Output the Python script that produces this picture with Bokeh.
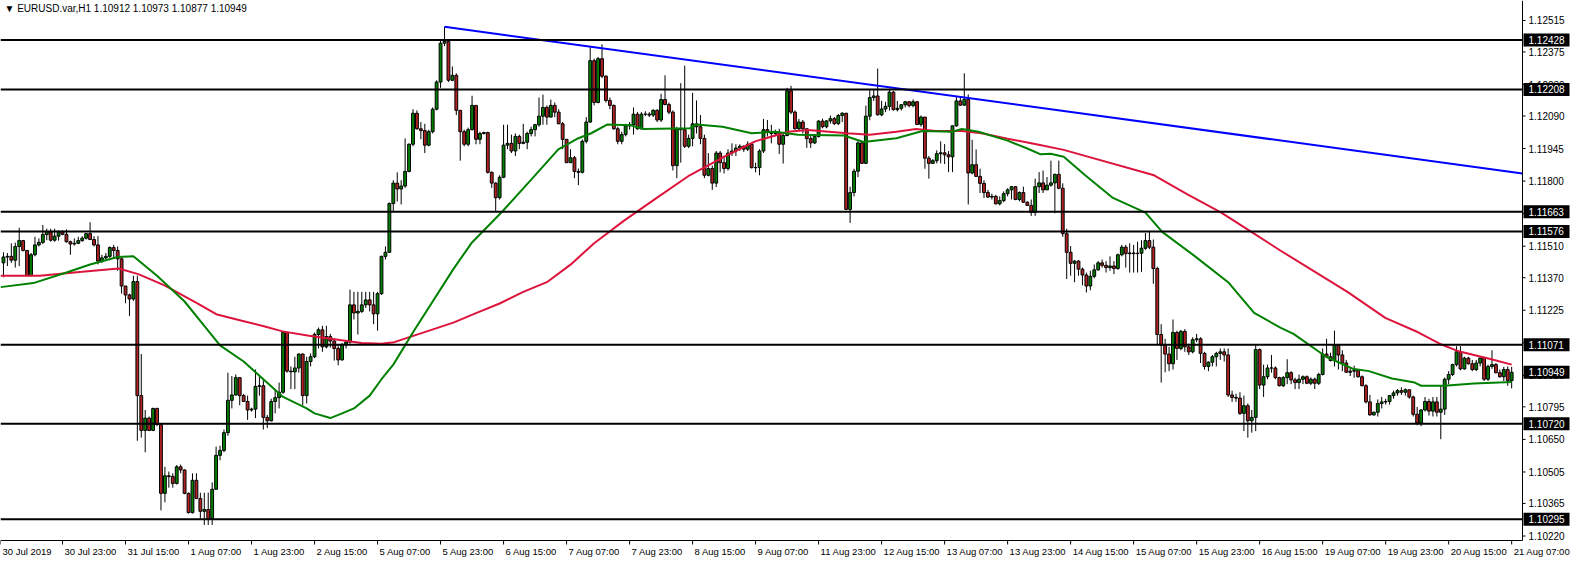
from bokeh.plotting import figure
from bokeh.models import Range1d, Label, ColumnDataSource
from bokeh.core.properties import value
from bokeh.embed import file_html
from bokeh.resources import INLINE

FONT = "Liberation Sans"

# ---------------- data (EURUSD H1) ----------------
first_open = 1.11436
closes = [
1.11462,1.11465,1.11448,1.11509,1.11535,1.11491,1.11379,1.11472,1.11516,1.11527,
1.11562,1.11574,1.11537,1.11555,1.11574,1.11563,1.11530,1.11520,1.11523,1.11535,
1.11546,1.11566,1.11540,1.11516,1.11444,1.11458,1.11465,1.11504,1.11491,1.11454,
1.11333,1.11293,1.11275,1.11353,1.10845,1.10690,1.10745,1.10690,1.10788,1.10716,
1.10410,1.10488,1.10485,1.10454,1.10528,1.10514,1.10410,1.10324,1.10468,1.10387,
1.10330,1.10338,1.10298,1.10428,1.10579,1.10601,1.10680,1.10824,1.10848,1.10925,
1.10845,1.10819,1.10781,1.10785,1.10886,1.10889,1.10748,1.10733,1.10819,1.10836,
1.10860,1.11126,1.10954,1.10951,1.10968,1.11030,1.10845,1.10997,1.11018,1.11117,
1.11138,1.11062,1.11108,1.11088,1.11055,1.11004,1.11073,1.11083,1.11249,1.11213,
1.11220,1.11249,1.11271,1.11249,1.11209,1.11299,1.11465,1.11483,1.11700,1.11791,
1.11765,1.11778,1.11843,1.11964,1.12102,1.12033,1.12025,1.11960,1.12020,1.12120,
1.12241,1.12414,1.12422,1.12249,1.12271,1.12115,1.12020,1.11964,1.12029,1.12137,
1.11986,1.12012,1.12016,1.11839,1.11791,1.11726,1.11817,1.11960,1.11968,1.11934,
1.11999,1.11968,1.11973,1.12012,1.12029,1.12051,1.12089,1.12128,1.12085,1.12137,
1.12107,1.12055,1.11986,1.11882,1.11904,1.11843,1.11839,1.11977,1.12063,1.12336,
1.12150,1.12345,1.12267,1.12159,1.12137,1.12033,1.11977,1.12007,1.12046,1.12051,
1.12098,1.12033,1.12098,1.12098,1.12094,1.12115,1.12072,1.12163,1.12141,1.12107,
1.11869,1.12033,1.12029,1.11955,1.11990,1.12055,1.12042,1.11990,1.11826,1.11856,
1.11791,1.11925,1.11882,1.11856,1.11925,1.11934,1.11947,1.11955,1.11942,1.11964,
1.11860,1.11860,1.11934,1.12029,1.12020,1.12012,1.12012,1.11964,1.12003,1.12202,
1.12107,1.12033,1.12063,1.12033,1.11989,1.11970,1.11999,1.12067,1.12042,1.12068,
1.12078,1.12056,1.12092,1.12102,1.11674,1.11749,1.11844,1.11970,1.11879,1.12089,
1.12172,1.12179,1.12095,1.12121,1.12133,1.12196,1.12118,1.12124,1.12140,1.12153,
1.12136,1.12153,1.12052,1.12085,1.11902,1.11879,1.11891,1.11922,1.11926,1.11917,
1.11908,1.12046,1.12157,1.12138,1.12164,1.11836,1.11873,1.11821,1.11790,1.11749,
1.11729,1.11732,1.11699,1.11713,1.11744,1.11761,1.11775,1.11718,1.11749,1.11706,
1.11692,1.11660,1.11775,1.11792,1.11761,1.11782,1.11792,1.11830,1.11768,1.11566,
1.11483,1.11434,1.11444,1.11408,1.11382,1.11333,1.11376,1.11405,1.11436,1.11425,
1.11415,1.11422,1.11411,1.11472,1.11506,1.11477,1.11480,1.11477,1.11479,1.11501,
1.11535,1.11506,1.11411,1.11117,1.11069,1.11030,1.10987,1.11126,1.11055,1.11131,
1.11062,1.11040,1.11094,1.11098,1.11033,1.10975,1.10994,1.11018,1.11033,1.11040,
1.11026,1.10848,1.10837,1.10834,1.10766,1.10800,1.10733,1.10748,1.11050,1.10892,
1.10929,1.10968,1.10968,1.10925,1.10889,1.10925,1.10947,1.10915,1.10903,1.10918,
1.10929,1.10900,1.10918,1.10900,1.10939,1.11030,1.11018,1.11001,1.11069,1.11026,
1.10990,1.10949,1.10954,1.10957,1.10929,1.10889,1.10817,1.10759,1.10771,1.10810,
1.10817,1.10819,1.10845,1.10857,1.10867,1.10860,1.10871,1.10839,1.10762,1.10723,
1.10781,1.10819,1.10776,1.10817,1.10771,1.10785,1.10918,1.10939,1.10983,1.11040,
1.10964,1.11012,1.10987,1.10961,1.10990,1.11012,1.10918,1.10975,1.10983,1.10947,
1.10929,1.10961,1.10912,1.10949]
highs = [
1.11483,1.11480,1.11523,1.11526,1.11592,1.11537,1.11494,1.11480,1.11552,1.11545,
1.11605,1.11588,1.11588,1.11588,1.11581,1.11581,1.11585,1.11535,1.11545,1.11552,
1.11555,1.11569,1.11617,1.11555,1.11555,1.11472,1.11480,1.11509,1.11516,1.11509,
1.11458,1.11333,1.11299,1.11379,1.11379,1.11030,1.10781,1.10752,1.10791,1.10791,
1.10716,1.10528,1.10507,1.10499,1.10536,1.10538,1.10517,1.10413,1.10499,1.10499,
1.10413,1.10413,1.10413,1.10459,1.10618,1.10622,1.10694,1.10947,1.10932,1.10939,
1.10925,1.10853,1.10845,1.10791,1.10961,1.10932,1.10918,1.10759,1.10831,1.10874,
1.10903,1.11131,1.11126,1.10975,1.11018,1.11033,1.11033,1.11018,1.11033,1.11126,
1.11148,1.11156,1.11156,1.11120,1.11098,1.11069,1.11079,1.11091,1.11317,1.11307,
1.11307,1.11307,1.11307,1.11307,1.11307,1.11307,1.11468,1.11509,1.11705,1.11804,
1.11839,1.11804,1.11990,1.11968,1.12120,1.12115,1.12063,1.12055,1.12029,1.12128,
1.12249,1.12427,1.12487,1.12431,1.12310,1.12280,1.12115,1.12029,1.12038,1.12180,
1.12137,1.12020,1.12020,1.12020,1.11843,1.11795,1.11826,1.12051,1.12051,1.12007,
1.12012,1.12007,1.12055,1.12020,1.12042,1.12055,1.12172,1.12185,1.12137,1.12163,
1.12150,1.12120,1.12063,1.11986,1.11942,1.11912,1.11856,1.11986,1.12085,1.12396,
1.12345,1.12353,1.12409,1.12271,1.12172,1.12141,1.12042,1.12020,1.12055,1.12063,
1.12128,1.12107,1.12107,1.12111,1.12107,1.12120,1.12120,1.12189,1.12271,1.12150,
1.12115,1.12042,1.12236,1.12314,1.12007,1.12193,1.12159,1.12094,1.12007,1.11925,
1.11869,1.11934,1.11934,1.11904,1.11942,1.11968,1.11964,1.11964,1.11960,1.11977,
1.11968,1.11882,1.11942,1.12077,1.12072,1.12051,1.12029,1.12033,1.12012,1.12215,
1.12224,1.12115,1.12077,1.12072,1.12032,1.12006,1.12009,1.12071,1.12078,1.12071,
1.12092,1.12085,1.12099,1.12107,1.12104,1.11775,1.11855,1.11977,1.11977,1.12136,
1.12205,1.12205,1.12301,1.12157,1.12153,1.12211,1.12201,1.12157,1.12143,1.12157,
1.12157,1.12164,1.12157,1.12092,1.12085,1.11912,1.11898,1.11937,1.11977,1.11965,
1.11934,1.12046,1.12179,1.12172,1.12280,1.12186,1.11984,1.11941,1.11855,1.11804,
1.11761,1.11744,1.11739,1.11732,1.11754,1.11768,1.11778,1.11778,1.11754,1.11775,
1.11710,1.11718,1.11811,1.11840,1.11847,1.11818,1.11891,1.11833,1.11891,1.11790,
1.11588,1.11511,1.11448,1.11448,1.11415,1.11393,1.11401,1.11429,1.11444,1.11451,
1.11444,1.11465,1.11444,1.11477,1.11516,1.11516,1.11523,1.11516,1.11530,1.11537,
1.11569,1.11574,1.11540,1.11419,1.11163,1.11098,1.11062,1.11184,1.11134,1.11137,
1.11141,1.11076,1.11105,1.11120,1.11105,1.11040,1.10997,1.11026,1.11040,1.11055,
1.11055,1.11055,1.10867,1.10853,1.10860,1.10845,1.10810,1.10781,1.11069,1.11055,
1.10983,1.10983,1.11026,1.10975,1.10929,1.10932,1.11007,1.10954,1.10925,1.10939,
1.10935,1.10935,1.10926,1.10925,1.10947,1.11055,1.11098,1.11036,1.11134,1.11069,
1.11047,1.11004,1.10968,1.10978,1.10961,1.10935,1.10896,1.10848,1.10774,1.10828,
1.10839,1.10831,1.10848,1.10867,1.10874,1.10882,1.10877,1.10867,1.10845,1.10795,
1.10785,1.10839,1.10831,1.10839,1.10839,1.10889,1.10925,1.10954,1.10987,1.11065,
1.11065,1.11018,1.11018,1.11004,1.11004,1.11018,1.11018,1.10983,1.11047,1.10990,
1.10961,1.10973,1.10975,1.10973]
lows = [
1.11372,1.11422,1.11436,1.11415,1.11422,1.11487,1.11376,1.11376,1.11465,1.11509,
1.11520,1.11537,1.11530,1.11530,1.11535,1.11559,1.11526,1.11472,1.11513,1.11520,
1.11530,1.11540,1.11537,1.11509,1.11429,1.11436,1.11451,1.11458,1.11458,1.11401,
1.11299,1.11256,1.11199,1.11267,1.10644,1.10658,1.10593,1.10687,1.10687,1.10709,
1.10334,1.10370,1.10435,1.10435,1.10449,1.10499,1.10406,1.10320,1.10320,1.10384,
1.10298,1.10269,1.10269,1.10269,1.10428,1.10557,1.10593,1.10666,1.10788,1.10845,
1.10802,1.10817,1.10737,1.10774,1.10745,1.10845,1.10694,1.10701,1.10730,1.10766,
1.10788,1.10853,1.10947,1.10874,1.10874,1.10947,1.10802,1.10810,1.10975,1.11012,
1.11055,1.11040,1.11055,1.11059,1.11001,1.10980,1.11001,1.11055,1.11076,1.11184,
1.11117,1.11213,1.11235,1.11220,1.11163,1.11134,1.11293,1.11451,1.11480,1.11666,
1.11709,1.11696,1.11770,1.11839,1.11955,1.12029,1.11986,1.11925,1.11955,1.12012,
1.12115,1.12215,1.12401,1.12241,1.12245,1.12094,1.11891,1.11955,1.11955,1.12025,
1.11964,1.11964,1.12007,1.11834,1.11770,1.11666,1.11718,1.11813,1.11942,1.11925,
1.11912,1.11942,1.11964,1.11942,1.11999,1.11999,1.12042,1.12051,1.12051,1.12085,
1.12085,1.12055,1.11942,1.11882,1.11882,1.11813,1.11782,1.11834,1.11968,1.12059,
1.12137,1.12146,1.12258,1.12150,1.12120,1.12029,1.11964,1.11964,1.11999,1.12029,
1.12007,1.12029,1.12029,1.12089,1.12085,1.12085,1.12063,1.12063,1.12137,1.12098,
1.11847,1.11813,1.11882,1.11947,1.11947,1.11955,1.12012,1.11964,1.11813,1.11821,
1.11761,1.11774,1.11839,1.11834,1.11847,1.11912,1.11912,1.11934,1.11930,1.11934,
1.11856,1.11839,1.11826,1.11925,1.11999,1.11968,1.11999,1.11921,1.11878,1.11999,
1.12098,1.12029,1.12025,1.12012,1.11948,1.11948,1.11965,1.11994,1.12035,1.12035,
1.12056,1.12049,1.12049,1.12063,1.11671,1.11614,1.11732,1.11818,1.11876,1.11876,
1.12071,1.12157,1.12092,1.12089,1.12107,1.12114,1.12114,1.12110,1.12114,1.12128,
1.12128,1.12128,1.12049,1.12042,1.11855,1.11811,1.11876,1.11879,1.11879,1.11876,
1.11840,1.11840,1.12042,1.12136,1.12136,1.11696,1.11830,1.11818,1.11747,1.11725,
1.11725,1.11718,1.11696,1.11692,1.11706,1.11732,1.11718,1.11715,1.11710,1.11703,
1.11689,1.11645,1.11645,1.11747,1.11747,1.11761,1.11775,1.11657,1.11764,1.11552,
1.11364,1.11379,1.11350,1.11379,1.11336,1.11304,1.11314,1.11367,1.11401,1.11415,
1.11393,1.11401,1.11386,1.11405,1.11465,1.11415,1.11393,1.11393,1.11393,1.11396,
1.11494,1.11497,1.11343,1.11069,1.10903,1.10949,1.10954,1.10961,1.11004,1.11047,
1.11040,1.11026,1.11033,1.11083,1.10990,1.10961,1.10954,1.10975,1.10975,1.11004,
1.10997,1.10839,1.10817,1.10817,1.10759,1.10687,1.10658,1.10680,1.10687,1.10874,
1.10839,1.10918,1.10947,1.10918,1.10886,1.10883,1.10896,1.10896,1.10874,1.10874,
1.10896,1.10896,1.10892,1.10874,1.10892,1.10935,1.11012,1.10997,1.10975,1.10961,
1.10954,1.10947,1.10932,1.10925,1.10925,1.10886,1.10810,1.10756,1.10756,1.10752,
1.10788,1.10805,1.10805,1.10831,1.10845,1.10848,1.10845,1.10831,1.10752,1.10713,
1.10709,1.10774,1.10756,1.10752,1.10752,1.10651,1.10759,1.10896,1.10932,1.10975,
1.10958,1.10961,1.10983,1.10954,1.10954,1.10975,1.10910,1.10910,1.10964,1.10944,
1.10925,1.10910,1.10889,1.10877]

# moving averages, sampled along the drawn curves (bar index, price)
fast_x = [-0.75, 7.6, 16, 22, 29, 33, 39, 46, 51, 55, 61, 66, 71, 77, 79, 83, 86, 89, 93, 96, 99,
          104.25, 114.25, 118.8, 126.8, 134.25, 140.9, 146, 149.25, 153.4, 159.25, 162.6, 174.25,
          176, 182.6, 190, 196, 201.75, 213.4, 218.4, 226.75, 233.4, 240.9, 243.4, 247.6, 255, 260,
          263.4, 265.9, 269.25, 274.7, 281.75, 290, 294.25, 302.6, 311, 317.6, 324.25, 327.6,
          335.9, 342.6, 346.75, 352.6, 358.4, 360, 365.9, 373.4, 383]
fast_y = [1.11328, 1.11346, 1.11393, 1.11429, 1.11462, 1.11465, 1.11379, 1.11264, 1.11156, 1.11069,
          1.10997, 1.10918, 1.10839, 1.10788, 1.10766, 1.10745, 1.10766, 1.10788, 1.10845, 1.10918,
          1.10983, 1.11134, 1.11408, 1.11523, 1.11667, 1.11811, 1.11941, 1.11991, 1.12013, 1.12052,
          1.12049, 1.12032, 1.12035, 1.12052, 1.12042, 1.12013, 1.12020, 1.12006, 1.12003, 1.11974,
          1.11991, 1.12023, 1.12020, 1.12032, 1.12020, 1.11980, 1.11945, 1.11919, 1.11922, 1.11908,
          1.11826, 1.11725, 1.11660, 1.11574, 1.11465, 1.11350, 1.11213, 1.11148, 1.11120, 1.11018,
          1.10965, 1.10954, 1.10921, 1.10903, 1.10889, 1.10889, 1.10899, 1.10906]
slow_x = [-0.75, 9.25, 20, 29.25, 34.25, 40.9, 49.25, 54.25, 59.25, 65.9, 70.9, 77.6, 85.9, 90.9,
          95.9, 99.25, 109.25, 114.25, 120, 126, 132, 138, 144, 150, 157.6, 165.9, 174.25, 182.6,
          190.9, 199.25, 204.25, 214.25, 220, 226.75, 231.75, 236.75, 243.4, 248.4, 255, 262.6,
          269.25, 292.2, 300.9, 309.25, 317.6, 324.25, 341.3, 350.9, 359.25, 364.7, 369.25, 377.6, 383]
slow_y = [1.11379, 1.11379, 1.11396, 1.11411, 1.11386, 1.11336, 1.11256, 1.11206, 1.11184, 1.11155,
          1.11131, 1.11112, 1.11091, 1.11079, 1.11076, 1.11083, 1.11141, 1.11170, 1.11212, 1.11255,
          1.11307, 1.11350, 1.11428, 1.11523, 1.11624, 1.11725, 1.11826, 1.11905, 1.11977, 1.12020,
          1.12028, 1.12013, 1.12006, 1.12020, 1.12032, 1.12023, 1.12023, 1.12013, 1.11989, 1.11963,
          1.11939, 1.11826, 1.11739, 1.11660, 1.11566, 1.11491, 1.11307, 1.11191, 1.11127, 1.11076,
          1.11044, 1.11008, 1.10983]

trend_x = [112, 385.75]
trend_y = [1.12487, 1.11834]

levels = [1.12428, 1.12208, 1.11663, 1.11576, 1.11071, 1.10720, 1.10295]
price_ticks = [1.12515, 1.12375, 1.12230, 1.12090, 1.11945, 1.11800, 1.11655, 1.11510, 1.11370,
               1.11225, 1.11080, 1.10935, 1.10795, 1.10650, 1.10505, 1.10365, 1.10220]
x_tick_bars = [-0.75] + [15 + 16 * k for k in range(24)]
x_tick_labels = ["30 Jul 2019", "30 Jul 23:00", "31 Jul 15:00", "1 Aug 07:00", "1 Aug 23:00",
                 "2 Aug 15:00", "5 Aug 07:00", "5 Aug 23:00", "6 Aug 15:00", "7 Aug 07:00",
                 "7 Aug 23:00", "8 Aug 15:00", "9 Aug 07:00", "11 Aug 23:00", "12 Aug 15:00",
                 "13 Aug 07:00", "13 Aug 23:00", "14 Aug 15:00", "15 Aug 07:00", "15 Aug 23:00",
                 "16 Aug 15:00", "19 Aug 07:00", "19 Aug 23:00", "20 Aug 15:00", "21 Aug 07:00"]
symbol = "EURUSD.var,H1"

# ---------------- layout (pixels) ----------------
W, H = 1573, 557
AXIS_PX_X = 1522          # right price-axis line, px from left
AXIS_PX_Y = 540           # bottom time-axis line, px from top
X0, X1 = -0.75, 385.75    # bar range of the chart area
Y_TOP, Y_AXIS = 1.12604, 1.10200
px_bar = AXIS_PX_X / (X1 - X0)
px_unit = AXIS_PX_Y / (Y_TOP - Y_AXIS)
X_RIGHT = X0 + W / px_bar
Y_BOTTOM = Y_TOP - H / px_unit

# ---------------- chart ----------------
opens = [first_open] + closes[:-1]
n = len(closes)
bars = list(range(n))
BULL, BEAR = "#008000", "#b22222"
src = ColumnDataSource(dict(
    x=bars, high=highs, low=lows,
    top=[max(o, c) for o, c in zip(opens, closes)],
    bottom=[min(o, c) for o, c in zip(opens, closes)],
    color=[BULL if c >= o else BEAR for o, c in zip(opens, closes)],
))

p = figure(width=W, height=H, output_backend="svg", toolbar_location=None,
           x_range=Range1d(X0, X_RIGHT), y_range=Range1d(Y_BOTTOM, Y_TOP),
           x_axis_type=None, y_axis_type=None,
           min_border_left=0, min_border_top=0, min_border_right=0, min_border_bottom=0)
p.background_fill_color = "white"
p.border_fill_color = "white"
p.outline_line_color = None
p.grid.visible = False

# candles
p.segment(x0="x", y0="low", x1="x", y1="high", source=src, line_color="black", line_width=1)
p.vbar(x="x", width=0.72, top="top", bottom="bottom", source=src,
       fill_color="color", line_color="black", line_width=1)

# moving averages and trend line
p.line(slow_x, slow_y, line_color="#dc143c", line_width=2)
p.line(fast_x, fast_y, line_color="#008000", line_width=2)
p.line(trend_x, trend_y, line_color="#0000ff", line_width=2)

# horizontal levels
p.segment(x0=[X0] * len(levels), x1=[X1] * len(levels), y0=levels, y1=levels,
          line_color="black", line_width=2)

# frame lines (right price axis and bottom time axis)
p.segment(x0=[X1, X0], y0=[Y_AXIS, Y_AXIS], x1=[X1, X1], y1=[Y_TOP, Y_AXIS],
          line_color="black", line_width=1)

# price axis ticks and labels
p.segment(x0=[X1] * len(price_ticks), x1=[X1 + 3 / px_bar] * len(price_ticks),
          y0=price_ticks, y1=price_ticks, line_color="black", line_width=1)
p.text(x=[X1] * len(price_ticks), y=price_ticks, text=[f"{t:.5f}" for t in price_ticks],
       x_offset=6, text_font=value(FONT), text_font_size="10px", text_color="black",
       text_align="left", text_baseline="middle")

# time axis ticks and labels
p.segment(x0=x_tick_bars, x1=x_tick_bars, y0=[Y_AXIS] * len(x_tick_bars),
          y1=[Y_AXIS - 4 / px_unit] * len(x_tick_bars), line_color="black", line_width=1)
p.text(x=x_tick_bars, y=[Y_AXIS - 5 / px_unit] * len(x_tick_bars), text=x_tick_labels,
       x_offset=2, text_font=value(FONT), text_font_size="9.5px", text_color="black",
       text_align="left", text_baseline="top")

# black price boxes for levels and the current price
box_prices = levels + [closes[-1]]
p.rect(x=[X1 + 24 / px_bar] * len(box_prices), y=box_prices, width=46, height=13,
       width_units="screen", height_units="screen", fill_color="black", line_color=None)
p.text(x=[X1] * len(box_prices), y=box_prices, text=[f"{v:.5f}" for v in box_prices],
       x_offset=6, text_font=value(FONT), text_font_size="10px", text_color="white",
       text_align="left", text_baseline="middle")

header = f"\u25bc  {symbol}  {opens[-1]:.5f} {highs[-1]:.5f} {lows[-1]:.5f} {closes[-1]:.5f}"
p.add_layout(Label(x=X0, y=Y_TOP, x_offset=4, y_offset=-8, text=header, text_font=FONT,
                   text_font_size="10px", text_color="black", text_baseline="middle"))

open("out.html", "w").write(file_html(p, INLINE))
